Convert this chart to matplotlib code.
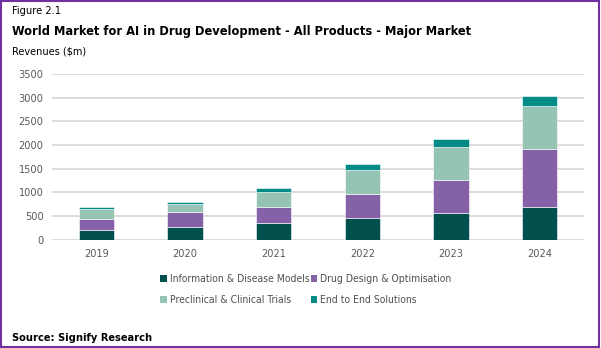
import matplotlib.pyplot as plt
import numpy as np
from matplotlib.patches import Patch, Rectangle

plt.rcParams['font.family'] = ['DejaVu Sans']
plt.rcParams['font.stretch'] = 'condensed'

years = ['2019', '2020', '2021', '2022', '2023', '2024']
info_models = [200, 260, 345, 457, 557, 690]
drug_design = [230, 318, 345, 509, 705, 1215]
preclinical = [218, 176, 311, 501, 692, 924]
end_to_end = [42, 42, 92, 127, 169, 205]

series = [
    ('Information & Disease Models', info_models, '#01504e'),
    ('Drug Design & Optimisation', drug_design, '#8562a8'),
    ('Preclinical & Clinical Trials', preclinical, '#95c4b5'),
    ('End to End Solutions', end_to_end, '#008b87'),
]

W, H = 601, 348
fig = plt.figure(figsize=(W / 100, H / 100), dpi=100)
ax = fig.add_axes([52 / W, 1 - 239.5 / H, 532 / W, 165.5 / H])

x = np.arange(len(years))
bottom = np.zeros(len(years))
for name, vals, col in series:
    ax.bar(x, vals, 0.4, bottom=bottom, color=col, edgecolor='white', linewidth=0.4, zorder=3)
    bottom += np.array(vals)

ax.set_xlim(-0.5, len(years) - 0.5)
ax.set_ylim(0, 3500)
ax.set_yticks(range(0, 3501, 500))
ax.set_xticks(x)
ax.set_xticklabels(years)
ax.yaxis.grid(True, color='#d9d9d9', linewidth=1.3, zorder=0)
for s in ax.spines.values():
    s.set_visible(False)
ax.tick_params(length=0, labelsize=7.8, colors='#595959', pad=6)
ax.tick_params(axis='x', pad=7)

# legend fills column-wise, so reorder to get the row layout
handles = [Patch(facecolor=c, label=n) for n, _, c in series]
handles = [handles[0], handles[2], handles[1], handles[3]]
fig.legend(handles=handles, ncol=2, loc='center left', bbox_to_anchor=(151 / W, 1 - 289.5 / H),
           frameon=False, fontsize=7.5, handlelength=0.6, handleheight=0.6, handletextpad=0.3,
           columnspacing=0.1, labelspacing=1.05, labelcolor='#505050')

fig.text(12 / W, 1 - 11 / H, 'Figure 2.1', fontsize=7.9, va='center', ha='left')
fig.text(12 / W, 1 - 32 / H, 'World Market for AI in Drug Development - All Products - Major Market',
         fontsize=9.2, fontweight='bold', va='center', ha='left')
fig.text(12 / W, 1 - 51 / H, 'Revenues ($m)', fontsize=7.8, va='center', ha='left')
fig.text(12 / W, 1 - 338 / H, 'Source: Signify Research', fontsize=7.9, fontweight='bold',
         va='center', ha='left')

fig.patches.append(Rectangle((1 / W, 1.5 / H), (W - 3) / W, (H - 2.5) / H, transform=fig.transFigure,
                             fill=False, edgecolor='#7030a0', linewidth=1.5))

fig.savefig('out.png', dpi=100)
